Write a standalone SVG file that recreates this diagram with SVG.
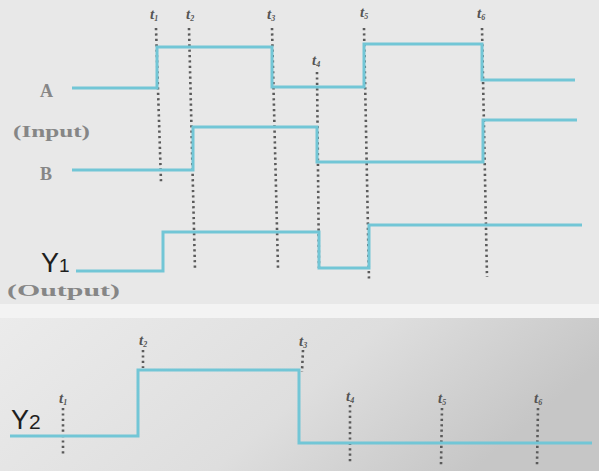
<svg xmlns="http://www.w3.org/2000/svg" width="599" height="471" viewBox="0 0 599 471">
<defs>
<linearGradient id="bg2" x1="0" y1="0" x2="1" y2="0.3">
<stop offset="0" stop-color="#ebebeb"/>
<stop offset="0.6" stop-color="#dedede"/>
<stop offset="1" stop-color="#c6c6c6"/>
</linearGradient>
<style>
.sig{fill:none;stroke:#72c6d6;stroke-width:3;stroke-linejoin:miter}
.dot{fill:none;stroke:#5a5a5a;stroke-width:2.6;stroke-dasharray:2.2 3.2}
.tl{font-family:"Liberation Serif",serif;font-style:italic;font-weight:bold;font-size:15px;fill:#555}
.tl tspan{font-size:8px}
.lab{font-family:"Liberation Serif",serif;font-weight:bold;fill:#868686}
.ylab{font-family:"Liberation Sans",Arial,sans-serif;fill:#1e1e1e}
</style>
</defs>
<rect x="0" y="0" width="599" height="471" fill="#e8e8e8"/>
<rect x="0" y="304" width="599" height="14" fill="#f3f3f3"/>
<rect x="0" y="318" width="599" height="153" fill="url(#bg2)"/>

<g id="guides">
<line class="dot" x1="156" y1="28" x2="161" y2="182"/>
<line class="dot" x1="189" y1="28" x2="195" y2="270"/>
<line class="dot" x1="272" y1="28" x2="278" y2="268"/>
<line class="dot" x1="317" y1="72" x2="319" y2="268"/>
<line class="dot" x1="364" y1="28" x2="369" y2="280"/>
<line class="dot" x1="482" y1="28" x2="487" y2="277"/>
<line class="dot" x1="63" y1="408" x2="63" y2="456"/>
<line class="dot" x1="143" y1="350" x2="143" y2="368"/>
<line class="dot" x1="303" y1="350" x2="302" y2="372"/>
<line class="dot" x1="350" y1="405" x2="350" y2="462"/>
<line class="dot" x1="442" y1="408" x2="441" y2="465"/>
<line class="dot" x1="538" y1="408" x2="537" y2="465"/>
</g>

<g id="time-labels">
<text class="tl" x="150" y="19">t<tspan dy="2">1</tspan></text>
<text class="tl" x="186" y="19">t<tspan dy="2">2</tspan></text>
<text class="tl" x="267" y="19">t<tspan dy="2">3</tspan></text>
<text class="tl" x="312" y="65">t<tspan dy="2">4</tspan></text>
<text class="tl" x="360" y="17">t<tspan dy="2">5</tspan></text>
<text class="tl" x="477" y="18">t<tspan dy="2">6</tspan></text>
<text class="tl" x="59" y="403">t<tspan dy="2">1</tspan></text>
<text class="tl" x="139" y="345">t<tspan dy="2">2</tspan></text>
<text class="tl" x="299" y="346">t<tspan dy="2">3</tspan></text>
<text class="tl" x="346" y="401">t<tspan dy="2">4</tspan></text>
<text class="tl" x="438" y="403">t<tspan dy="2">5</tspan></text>
<text class="tl" x="534" y="403">t<tspan dy="2">6</tspan></text>
</g>

<g id="signal-A">
<text class="lab" x="40" y="97" font-size="18">A</text>
<path class="sig" d="M72 88 H157 V47 H272 V87 H364 V44 H482 V80 H575"/>
</g>
<g id="input-label">
<text class="lab" x="13" y="137" font-size="17" textLength="77" lengthAdjust="spacingAndGlyphs">(Input)</text>
</g>
<g id="signal-B">
<text class="lab" x="40" y="180" font-size="18">B</text>
<path class="sig" d="M72 170 H193 V127 H317 V162 H483 V120 H577"/>
</g>
<g id="signal-Y1">
<text class="ylab" x="41" y="272" font-size="27">Y<tspan font-size="19">1</tspan></text>
<path class="sig" d="M76 271 H163 V232 H319 V268 H369 V225 H582"/>
</g>
<g id="output-label">
<text class="lab" x="7" y="296" font-size="17" textLength="113" lengthAdjust="spacingAndGlyphs">(Output)</text>
</g>
<g id="signal-Y2">
<text class="ylab" x="11" y="429" font-size="27">Y<tspan font-size="21">2</tspan></text>
<path class="sig" d="M10 436 H138 V370 H299 V443 H592"/>
</g>
</svg>
